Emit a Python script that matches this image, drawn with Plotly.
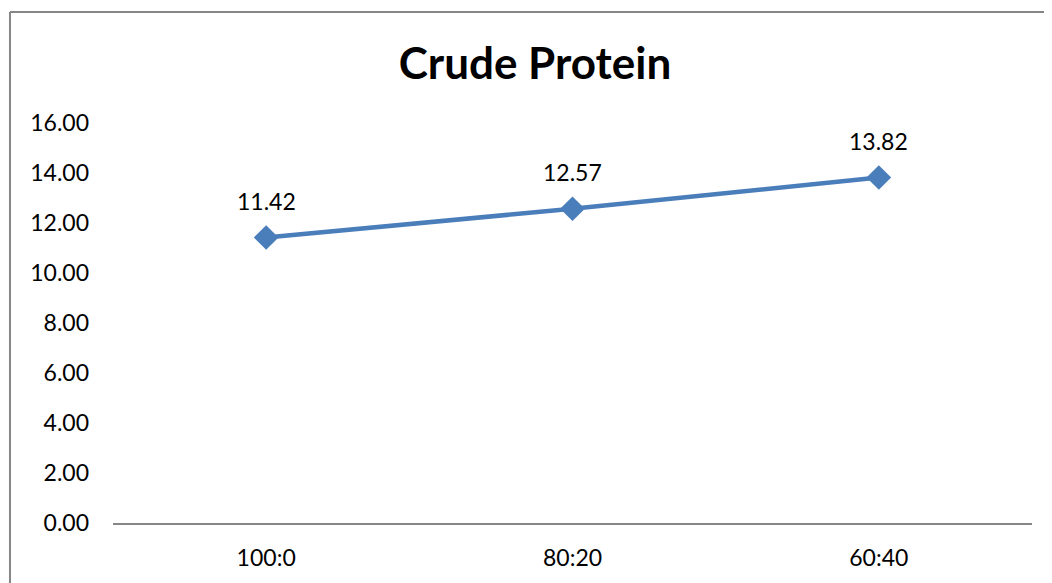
import plotly.graph_objects as go

categories = ["100:0", "80:20", "60:40"]
crude_protein = [11.42, 12.57, 13.82]
y_tick_values = [0, 2, 4, 6, 8, 10, 12, 14, 16]
y_tick_labels = [f"{v:.2f}" for v in y_tick_values]

LINE_COLOR = "#4A7EBB"
FONT = "Lato, Carlito, Calibri, sans-serif"

W, H = 1044, 575

fig = go.Figure()
fig.add_trace(go.Scatter(
    x=categories, y=crude_protein, mode="lines+markers",
    line=dict(color=LINE_COLOR, width=4.5),
    marker=dict(symbol="diamond", size=19, color=LINE_COLOR),
    cliponaxis=False, showlegend=False, hoverinfo="skip",
))

for c, v in zip(categories, crude_protein):
    fig.add_annotation(x=c, y=v, text=f"{v:.2f}", showarrow=False,
                       yshift=37, font=dict(family=FONT, size=23, color="#000000"))

# chart-area border (left and top edges visible in the reference)
fig.add_shape(type="line", xref="paper", yref="paper",
              x0=-0.1121, x1=-0.1121, y0=-0.2, y1=1.2775,
              line=dict(color="#868686", width=2), layer="below")
fig.add_shape(type="line", xref="paper", yref="paper",
              x0=-0.1121, x1=1.05, y0=1.2775, y1=1.2775,
              line=dict(color="#868686", width=2), layer="below")

fig.update_layout(
    width=W, height=H,
    margin=dict(l=105, r=20, t=115, b=60),
    paper_bgcolor="white", plot_bgcolor="white",
    title=dict(text="<b>Crude Protein</b>", x=527 / W, xanchor="center",
               y=1 - 56 / H, yanchor="middle", yref="container",
               font=dict(family=FONT, size=44, color="#000000")),
    font=dict(family=FONT, size=23, color="#000000"),
    xaxis=dict(type="category", range=[-0.5, 2.5], showgrid=False,
               showline=True, linecolor="#868686", linewidth=2,
               ticks="", ticklabelstandoff=13, zeroline=False,
               tickfont=dict(family=FONT, size=23, color="#000000")),
    yaxis=dict(range=[0, 16], tickvals=y_tick_values, ticktext=y_tick_labels,
               showgrid=False, showline=False, zeroline=False, ticks="",
               ticklabelstandoff=23,
               tickfont=dict(family=FONT, size=23, color="#000000")),
)

fig.write_html("out.html")
